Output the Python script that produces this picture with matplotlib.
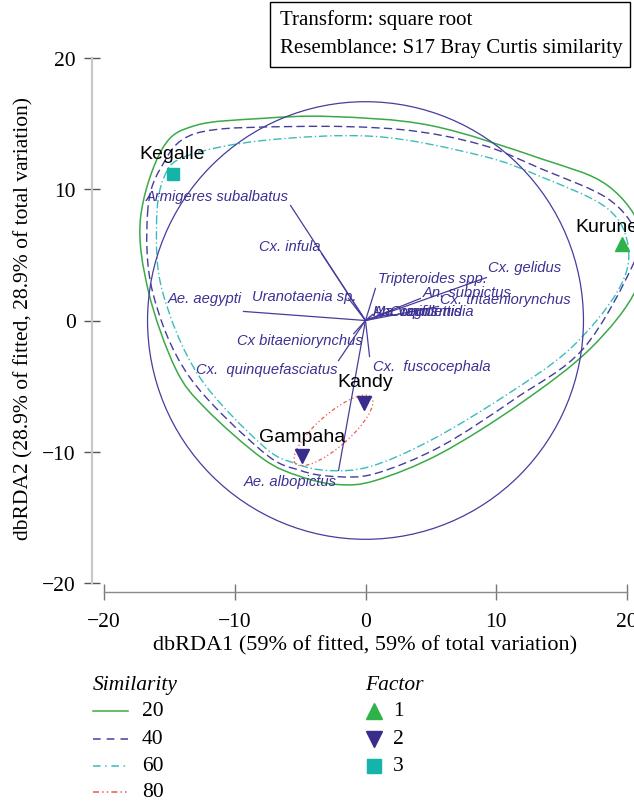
import numpy as np
import matplotlib
matplotlib.use("Agg")
import matplotlib.pyplot as plt
from matplotlib.path import Path
from matplotlib.patches import PathPatch, Circle, Ellipse, Rectangle
from matplotlib.lines import Line2D

# ---------------- data ----------------
site_names = ["Kegalle", "Kurunegala", "Kandy", "Gampaha"]
site_factor = [3, 1, 2, 2]
site_x = [-14.7, 19.65, -0.15, -4.82]
site_y = [11.2, 5.86, -6.32, -10.36]
site_label_x = [-14.76, 16.06, 0.0, -4.82]
site_label_y = [12.72, 7.16, -4.65, -8.83]
site_label_ha = ["center", "left", "center", "center"]

species = ["Armigeres subalbatus", "Cx. infula", "Uranotaenia sp.", "Ae. aegypti",
           "Tripteroides spp.", "Cx. gelidus", "An. subpictus", "Cx. tritaeniorynchus",
           "Ma. uniformis", "Coquillettidia", "An. vagus", "Cx bitaeniorynchus",
           "Cx.  quinquefasciatus", "Cx.  fuscocephala", "Ae. albopictus"]
vec_x = [-5.73, -3.36, -1.30, -9.33, 0.76, 9.25, 4.20, 5.58, 0.54, 1.90, 0.40, -0.90, -2.06, 0.31, -2.06]
vec_y = [8.76, 5.10, 1.68, 0.69, 2.44, 3.27, 1.68, 1.07, 0.46, 0.50, 0.30, -1.00, -3.05, -2.74, -11.42]
lab_x = [-5.89, -3.44, -0.69, -9.48, 0.99, 9.40, 4.36, 5.73, 0.54, 1.80, 0.54, -0.23, -2.14, 0.54, -2.20]
lab_y = [9.52, 5.71, 1.90, 1.68, 3.20, 4.10, 2.20, 1.60, 0.70, 0.70, 0.70, -1.45, -3.66, -3.50, -12.26]
lab_ha = ["right", "right", "right", "right", "left", "left", "left", "left",
          "left", "left", "left", "right", "right", "left", "right"]

circle_radius = 16.67

# similarity contours (control points)
sim20_x = [-17.21, -15.53, -13.00, -8.03, -2.68, 4.97, 13.38, 18.51, 21.19, 20.73, 17.21, 11.85, 5.74, 0.76, -2.07, -4.97, -7.88, -12.24, -14.53, -16.60]
sim20_y = [7.77, 13.10, 14.86, 15.39, 15.54, 14.86, 12.34, 10.29, 6.63, 2.44, -2.13, -6.32, -10.13, -12.19, -12.50, -11.89, -10.51, -6.70, -3.66, 2.21]
sim40_x = [-16.67, -15.68, -13.00, -5.35, 2.68, 8.80, 13.38, 18.51, 20.73, 20.50, 16.67, 11.47, 5.74, 0.76, -2.29, -4.97, -7.88, -13.54, -16.29]
sim40_y = [8.15, 11.58, 14.25, 14.78, 14.55, 13.41, 11.58, 9.30, 6.63, 4.34, -2.13, -5.94, -9.60, -11.66, -11.89, -11.43, -9.98, -4.19, 2.21]
sim60_x = [-15.98, -15.45, -13.77, -7.88, 0.76, 8.80, 13.38, 18.51, 20.11, 19.27, 15.68, 10.71, 4.97, 0.38, -2.83, -5.35, -7.88, -12.77, -15.53]
sim60_y = [7.39, 10.82, 12.50, 13.71, 14.02, 12.57, 10.97, 8.53, 5.49, 2.21, -2.13, -5.71, -9.14, -11.12, -11.43, -10.90, -9.52, -4.19, 2.21]
sim80_center = (-2.45, -8.38)
sim80_width = 7.7
sim80_height = 2.5
sim80_angle = 41

x_ticks = [-20, -10, 0, 10, 20]
y_ticks = [-20, -10, 0, 10, 20]

# ---------------- styles ----------------
GREEN = "#3aaa48"
PURPLE = "#463d9c"
CYAN = "#3bbcbc"
RED = "#ef5b50"
TXTPURPLE = "#3b3193"
MARK_PURPLE = "#3a2c8c"
MARK_GREEN = "#2fb24a"
MARK_CYAN = "#14b4aa"
SERIF = ["Liberation Serif", "DejaVu Serif"]
SANS = ["Liberation Sans", "DejaVu Sans"]
FS = 15.5

W, H = 634, 803
fig = plt.figure(figsize=(W / 100, H / 100), dpi=100)

# axes placement (pixels)
xl = (-20.9, 22.0)
yl = (-20.68, 21.5)
px_per_x = 13.075
px_per_y = 13.125
left_px = 104 - (xl[0] + 20) * -px_per_x
right_px = 627 + (xl[1] - 20) * px_per_x
bottom_px = 584 + (-20 - yl[0]) * px_per_y
top_px = 59 - (yl[1] - 20) * px_per_y
aw = right_px - left_px
ah = bottom_px - top_px
ax = fig.add_axes([left_px / W, (H - bottom_px) / H, aw / W, ah / H])
ax.set_xlim(*xl)
ax.set_ylim(*yl)
ax.patch.set_alpha(0)


def smooth_closed(xs, ys):
    P = np.column_stack([xs, ys])
    n = len(P)
    verts = [P[0]]
    codes = [Path.MOVETO]
    for i in range(n):
        p0, p1, p2, p3 = P[i - 1], P[i], P[(i + 1) % n], P[(i + 2) % n]
        c1 = p1 + (p2 - p0) / 6.0
        c2 = p2 - (p3 - p1) / 6.0
        verts += [c1, c2, p2]
        codes += [Path.CURVE4] * 3
    return Path(np.array(verts), codes)


ax.add_patch(PathPatch(smooth_closed(sim20_x, sim20_y), fill=False, ec=GREEN, lw=1.1))
ax.add_patch(PathPatch(smooth_closed(sim40_x, sim40_y), fill=False, ec=PURPLE, lw=1.0,
                       ls=(0, (6, 3))))
ax.add_patch(PathPatch(smooth_closed(sim60_x, sim60_y), fill=False, ec=CYAN, lw=1.0,
                       ls=(0, (6, 2, 1, 2))))
ax.add_patch(Ellipse(sim80_center, sim80_width, sim80_height, angle=sim80_angle,
                     fill=False, ec=RED, lw=0.9, ls=(0, (3, 2, 1, 2, 1, 2))))
ax.add_patch(Circle((0, 0), circle_radius, fill=False, ec=PURPLE, lw=0.9))

for vx, vy in zip(vec_x, vec_y):
    ax.plot([0, vx], [0, vy], color=PURPLE, lw=0.9)
for name, tx, ty, ha in zip(species, lab_x, lab_y, lab_ha):
    ax.text(tx, ty, name, ha=ha, va="center", fontsize=10.6, style="italic",
            color=TXTPURPLE, family=SANS)

marker_map = {1: ("^", MARK_GREEN), 2: ("v", MARK_PURPLE), 3: ("s", MARK_CYAN)}
for name, f, sx, sy, lx, ly, ha in zip(site_names, site_factor, site_x, site_y,
                                       site_label_x, site_label_y, site_label_ha):
    m, c = marker_map[f]
    ax.plot(sx, sy, marker=m, color=c, ms=10 if m != "s" else 8.5, ls="none",
            clip_on=False, zorder=5)
    ax.text(lx, ly, name, ha=ha, va="center", fontsize=14, color="black", family=SANS)

# spines and ticks
for s in ["top", "right"]:
    ax.spines[s].set_visible(False)
ax.spines["left"].set_bounds(-20, 20)
ax.spines["left"].set_color("#c8c8c8")
ax.spines["left"].set_linewidth(1.6)
ax.spines["bottom"].set_bounds(-20, 20)
ax.spines["bottom"].set_color("#8a8a8a")
ax.spines["bottom"].set_linewidth(1.0)
ax.set_xticks(x_ticks)
ax.set_yticks(y_ticks)
ax.set_xticklabels([str(t).replace("-", "\u2212") for t in x_ticks], family=SERIF, fontsize=FS)
ax.set_yticklabels([str(t).replace("-", "\u2212") for t in y_ticks], family=SERIF, fontsize=FS)
ax.tick_params(axis="y", direction="inout", length=12, width=1.0, color="#555555", pad=6)
ax.tick_params(axis="x", direction="inout", length=11, width=1.0, color="#777777", pad=9)
ax.set_xlabel("dbRDA1 (59% of fitted, 59% of total variation)", family=SERIF, fontsize=16)
ax.xaxis.set_label_coords((365 - left_px) / aw, -(636 - bottom_px) / ah)
ax.set_ylabel("dbRDA2 (28.9% of fitted, 28.9% of total variation)", family=SERIF, fontsize=15.5)
ax.yaxis.set_label_coords(-(left_px - 33) / aw, (bottom_px - 318) / ah)

# overlay in pixel coordinates for box and legend
ov = fig.add_axes([0, 0, 1, 1])
ov.set_xlim(0, W)
ov.set_ylim(H, 0)
ov.axis("off")
ov.patch.set_alpha(0)
ov.add_patch(Rectangle((270, 3), 360, 65, fill=True, fc="white", ec="black", lw=1.0))
ov.text(280, 20, "Transform: square root", family=SERIF, fontsize=15, va="center", ha="left")
ov.text(280, 48, "Resemblance: S17 Bray Curtis similarity", family=SERIF, fontsize=15,
        va="center", ha="left")

sim_levels = ["20", "40", "60", "80"]
sim_colors = [GREEN, PURPLE, CYAN, RED]
sim_styles = ["-", (0, (5, 4)), (0, (5, 3, 1, 3)), (0, (4, 2, 1, 2, 1, 2))]
leg_y = [712, 740, 767, 793]
ov.text(93, 686, "Similarity", family=SERIF, style="italic", fontsize=15.5, va="center")
for lev, c, st, yy in zip(sim_levels, sim_colors, sim_styles, leg_y):
    ov.add_line(Line2D([93, 128], [yy, yy], color=c, ls=st, lw=1.1))
    ov.text(142, yy, lev, family=SERIF, fontsize=FS, va="center")

factor_levels = ["1", "2", "3"]
ov.text(365, 686, "Factor", family=SERIF, style="italic", fontsize=15.5, va="center")
for lev, yy in zip(factor_levels, leg_y[:3]):
    m, c = marker_map[int(lev)]
    ov.plot(374, yy, marker=m, color=c, ms=11 if m != "s" else 10, ls="none")
    ov.text(393, yy, lev, family=SERIF, fontsize=FS, va="center")

fig.savefig("out.png", dpi=100)
